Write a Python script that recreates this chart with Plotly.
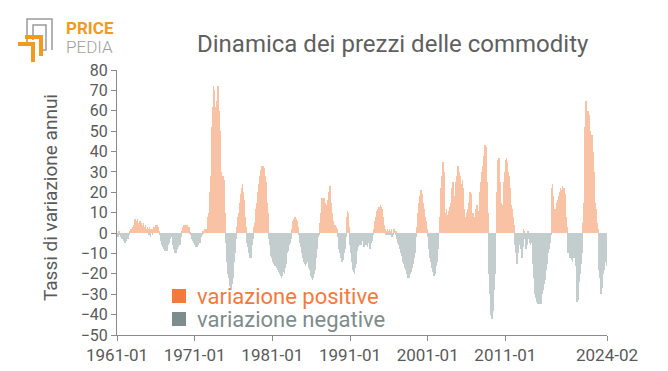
import plotly.graph_objects as go
import pandas as pd

# monthly year-on-year rates, 1961-01 .. 2024-02 (one line per year)
tassi = [
    -1, -1, -2, 1, 1, -1, -2, -1, -3, -2, -3, -4,          # 1961
    -5, -4, -3, -4, -2, -3, -2, -1, 1, 1, 2, 2,            # 1962
    2, 3, 4, 5, 7, 6, 5, 6, 7, 5, 4, 5,                    # 1963
    6, 4, 5, 3, 4, 5, 2, 3, 4, 2, 1, 3,                    # 1964
    2, -1, 3, 1, -2, 2, 1, -1, 2, 3, 1, 2,                 # 1965
    4, 3, 4, 2, 3, 1, -1, -3, -4, -6, -7, -6,              # 1966
    -8, -7, -9, -8, -7, -9, -8, -6, -4, -5, -3, -1,        # 1967
    -1, -2, -4, -6, -8, -9, -10, -9, -10, -8, -7, -6,      # 1968
    -5, -6, -4, -2, 1, 2, 3, 4, 4, 3, 4, 3,                # 1969
    4, 3, 2, 3, 1, 0.5, -1, -2, -3, -4, -5, -5,            # 1970
    -6, -7, -5, -6, -7, -6, -5, -4, -5, -3, -2, -1,        # 1971
    -1, 1, 0.5, 1, 2, 1, 1.5, 2, 5, 8, 10, 12,             # 1972
    20, 28, 40, 52, 62, 72, 70, 62, 58, 60, 65, 70,        # 1973
    72, 68, 60, 50, 40, 30, 27, 24, 28, 26, 22, 10,        # 1974
    -5, -10, -14, -18, -20, -22, -25, -26, -28, -27, -25, -22,  # 1975
    -18, -14, -10, -6, -3, 3, 6, 8, 10, 12, 15, 17,        # 1976
    19, 22, 24, 20, 16, 12, 8, 3, -2, -5, -7, -9,          # 1977
    -10, -12, -11, -12, -9, -6, -3, -1, 3, 5, 8, 12,       # 1978
    15, 18, 20, 24, 26, 28, 31, 33, 32, 30, 33, 31,        # 1979
    32, 28, 25, 20, 15, 10, 5, -3, -6, -10, -11, -12,      # 1980
    -12, -14, -13, -15, -16, -14, -15, -17, -18, -16, -19, -18,  # 1981
    -20, -21, -22, -20, -21, -19, -18, -20, -17, -15, -12, -10,  # 1982
    -9, -7, -6, -5, -4, -3, 2, 4, 6, 7, 8, 7,              # 1983
    8, 7, 6, 5, 3, -1, -3, -5, -7, -9, -10, -12,           # 1984
    -13, -14, -15, -16, -14, -15, -13, -14, -16, -17, -18, -20,  # 1985
    -21, -22, -23, -22, -20, -19, -18, -15, -12, -8, -5, -2,     # 1986
    -1, 2, 5, 10, 15, 17, 16, 14, 17, 15, 12, 13,          # 1987
    14, 12, 16, 18, 20, 23, 18, 15, 10, 8, 6, 4,           # 1988
    3, 4, 2, 3, 2, -2, -5, -8, -10, -12, -11, -13,         # 1989
    -14, -13, -12, -10, -8, -6, -2, 8, 11, 10, 3, -3,      # 1990
    -6, -8, -10, -14, -16, -18, -19, -20, -17, -15, -12, -9,     # 1991
    -7, -5, -4, -6, -3, -5, -6, -4, -3, -5, -7, -4,        # 1992
    -3, -6, -4, -7, -5, -3, -6, -8, -5, -3, -2, -4,        # 1993
    -1, 2, 4, 6, 8, 10, 11, 12, 13, 12, 13, 14,            # 1994
    13, 12, 10, 8, 6, 4, 2, 1, -1, 1, 2, -1,               # 1995
    1, 2, -1, 1, 2, -2, -1, 1, 2, 1, -1, 1,                # 1996
    -1, -3, -5, -2, -6, -8, -10, -9, -11, -12, -14, -15,   # 1997
    -16, -17, -18, -19, -20, -21, -22, -21, -22, -20, -19, -18,  # 1998
    -17, -15, -14, -12, -10, -6, -2, 3, 6, 10, 13, 15,     # 1999
    18, 20, 21, 19, 17, 15, 12, 10, 8, 6, 4, 2,            # 2000
    -2, -5, -8, -10, -12, -14, -15, -17, -19, -20, -21, -20,     # 2001
    -18, -16, -14, -12, -8, -4, 3, 8, 15, 22, 28, 32,      # 2002
    35, 30, 18, 10, 7, 12, 6, 9, 11, 8, 13, 15,            # 2003
    15, 18, 22, 25, 20, 18, 15, 20, 25, 28, 30, 33,        # 2004
    30, 25, 22, 28, 24, 20, 26, 22, 12, 10, 8, 6,          # 2005
    10, 8, 12, 7, 15, 20, 18, 19, 12, 8, 10, 6,            # 2006
    5, 8, 12, 10, 14, 8, 6, 11, 15, 20, 25, 28,            # 2007
    30, 33, 36, 38, 40, 43, 42, 35, 25, 10, -8, -20,       # 2008
    -30, -35, -40, -42, -41, -38, -35, -28, -20, -10, 5, 20,     # 2009
    30, 36, 37, 32, 25, 15, 10, 12, 14, 20, 25, 30,        # 2010
    33, 36, 37, 35, 30, 25, 28, 22, 18, 14, 12, 10,        # 2011
    8, 4, -3, -6, -10, -12, -15, -14, -10, -5, -6, -4,     # 2012
    -8, -11, -12, -7, 2, 1, -3, -5, -8, -6, -4, 1,         # 2013
    -3, -5, -4, -6, -3, -5, -8, -15, -22, -28, -30, -32,   # 2014
    -33, -34, -35, -34, -35, -33, -32, -35, -34, -30, -28, -27,  # 2015
    -25, -23, -20, -18, -15, -12, -10, -8, -6, -5, -3, -1,       # 2016
    22, 24, 18, 12, 10, 9, 12, 15, 14, 16, 18, 17,         # 2017
    20, 22, 19, 21, 23, 20, 18, 22, 19, 14, 8, 3,          # 2018
    -5, -10, -8, -11, -12, -9, -11, -13, -14, -12, -10, -8,      # 2019
    -12, -16, -20, -34, -33, -28, -24, -20, -18, -15, -10, -5,   # 2020
    5, 15, 35, 52, 60, 65, 58, 55, 60, 58, 55, 50,         # 2021
    45, 44, 48, 40, 35, 30, 20, 15, 12, 8, 5, 2,           # 2022
    -10, -18, -22, -28, -30, -27, -22, -20, -18, -15, -14, -12,  # 2023
    -16, -14,                                              # 2024
]
mesi = pd.date_range("1961-01-01", periods=len(tassi), freq="MS")

tick_date = ["1961-01-01", "1971-01-01", "1981-01-01", "1991-01-01",
             "2001-01-01", "2011-01-01", "2024-02-01"]
tick_label = ["1961-01", "1971-01", "1981-01", "1991-01",
              "2001-01", "2011-01", "2024-02"]
y_ticks = list(range(-50, 81, 10))
y_labels = [("\u2212" + str(-v)) if v < 0 else str(v) for v in y_ticks]

titolo = "Dinamica dei prezzi delle commodity"
titolo_y = "Tassi di variazione annui"
leg_pos = "variazione positive"
leg_neg = "variazione negative"

COL_POS = "#F9C2A4"
COL_NEG = "#C4CDCD"
LEG_POS = "#F47A3C"
LEG_NEG = "#7D8C8C"
FONT = "Roboto"

W, H = 668, 371
L, R, T, B = 117, 61, 70, 36
PW, PH = W - L - R, H - T - B

pos = [v if v > 0 else 0 for v in tassi]
neg = [v if v < 0 else 0 for v in tassi]

fig = go.Figure()
fig.add_trace(go.Bar(x=mesi, y=pos, marker=dict(color=COL_POS, line=dict(width=0)),
                     showlegend=False, hoverinfo="x+y"))
fig.add_trace(go.Bar(x=mesi, y=neg, marker=dict(color=COL_NEG, line=dict(width=0)),
                     showlegend=False, hoverinfo="x+y"))

fig.update_layout(
    template="none",
    width=W, height=H,
    margin=dict(l=L, r=R, t=T, b=B, autoexpand=False),
    paper_bgcolor="white", plot_bgcolor="white",
    barmode="relative", bargap=0,
    font=dict(family=FONT, color="#555555"),
    showlegend=False,
)
fig.update_xaxes(
    type="date", range=["1961-01-01", "2024-02-01"],
    tickvals=tick_date, ticktext=tick_label,
    showgrid=False, zeroline=False, automargin=False,
    showline=True, linecolor="#8a8a8a", linewidth=1,
    ticks="outside", ticklen=5, tickcolor="#8a8a8a",
    tickfont=dict(family=FONT, size=17, color="#5a5a5a"),
)
fig.update_yaxes(
    range=[-50, 80], tickvals=y_ticks, ticktext=y_labels,
    showgrid=False, zeroline=False, automargin=False,
    showline=True, linecolor="#8a8a8a", linewidth=1,
    ticks="outside", ticklen=5, tickcolor="#8a8a8a",
    tickfont=dict(family=FONT, size=16, color="#5a5a5a"),
)

def px(x):
    return (x - L) / PW

def py(y):
    return (H - B - y) / PH

# title and y-axis title
fig.add_annotation(xref="paper", yref="paper", x=px(393), y=py(44), xanchor="center", yanchor="middle",
                   showarrow=False, text=titolo, font=dict(family=FONT, size=24, color="#5f5f5f"))
fig.add_annotation(xref="paper", yref="paper", x=px(50), y=py(198), xanchor="center", yanchor="middle",
                   showarrow=False, text=titolo_y, textangle=-90,
                   font=dict(family=FONT, size=19, color="#5a5a5a"))

# legend (squares + text)
for yc, col, txt in [(296, LEG_POS, leg_pos), (319, LEG_NEG, leg_neg)]:
    fig.add_shape(type="rect", xref="paper", yref="paper",
                  x0=px(172), x1=px(186), y0=py(yc + 7), y1=py(yc - 7),
                  fillcolor=col, line=dict(width=0))
    fig.add_annotation(xref="paper", yref="paper", x=px(195), y=py(yc),
                       xanchor="left", yanchor="middle", showarrow=False,
                       text=txt, font=dict(family=FONT, size=22, color=col))

# logo
LOGO_OR = "#F39A1E"
LOGO_GR = "#9a9a9a"
fig.add_shape(type="path", xref="paper", yref="paper",
              path=f"M {px(27)},{py(44)} L {px(27)},{py(19)} L {px(52)},{py(19)} L {px(52)},{py(50)}",
              line=dict(color=LOGO_GR, width=1.5))
fig.add_shape(type="path", xref="paper", yref="paper",
              path=f"M {px(33)},{py(40)} L {px(33)},{py(25)} L {px(46)},{py(25)} L {px(46)},{py(50)} L {px(40)},{py(50)}",
              line=dict(color=LOGO_GR, width=1.5))
fig.add_shape(type="path", xref="paper", yref="paper",
              path=f"M {px(25)},{py(37)} L {px(41)},{py(37)} L {px(41)},{py(56)}",
              line=dict(color=LOGO_OR, width=4))
fig.add_shape(type="path", xref="paper", yref="paper",
              path=f"M {px(18)},{py(44)} L {px(33)},{py(44)} L {px(33)},{py(62)}",
              line=dict(color=LOGO_OR, width=4))
fig.add_annotation(xref="paper", yref="paper", x=px(64), y=py(28), xanchor="left", yanchor="middle",
                   showarrow=False, text="<b>PRICE</b>",
                   font=dict(family=FONT, size=17, color=LOGO_OR))
fig.add_annotation(xref="paper", yref="paper", x=px(64), y=py(47), xanchor="left", yanchor="middle",
                   showarrow=False, text="PEDIA",
                   font=dict(family="Roboto Light, Roboto", size=17, color="#a0a0a0"))

fig.write_html("out.html", config={"displayModeBar": False},
               post_script="document.body.style.margin='0';")
